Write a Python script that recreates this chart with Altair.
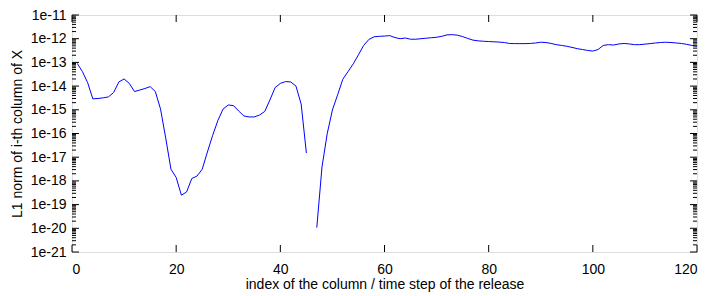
import altair as alt
import pandas as pd

# column index (1..120)
index = list(range(1, 121))
# L1 norm values (None = gap at 46)
values = [
    9.1e-14, 4.1e-14, 1.4e-14, 2.9e-15, 3.0e-15, 3.2e-15, 3.5e-15, 5.4e-15, 1.5e-14, 2.0e-14,
    1.3e-14, 5.9e-15, 6.8e-15, 7.9e-15, 9.5e-15, 5.9e-15, 1.07e-15, 6.3e-17, 3.1e-18, 1.4e-18,
    2.5e-19, 3.4e-19, 1.26e-18, 1.6e-18, 3.1e-18, 1.66e-17, 8.3e-17, 3.5e-16, 1.07e-15, 1.6e-15,
    1.5e-15, 8.9e-16, 5.5e-16, 5.0e-16, 5.0e-16, 6.0e-16, 8.5e-16, 2.6e-15, 8.7e-15, 1.3e-14,
    1.55e-14, 1.5e-14, 1.0e-14, 1.74e-15, 1.5e-17, None, 1.07e-20, 3.9e-18, 9.8e-17, 9.8e-16,
    4.3e-15, 1.95e-14, 4.1e-14, 8.7e-14, 2.1e-13, 5.2e-13, 9.3e-13, 1.2e-12, 1.26e-12, 1.29e-12,
    1.35e-12, 1.12e-12, 1.0e-12, 1.07e-12, 9.5e-13, 9.5e-13, 1.0e-12, 1.05e-12, 1.1e-12, 1.15e-12,
    1.26e-12, 1.45e-12, 1.48e-12, 1.41e-12, 1.23e-12, 1.02e-12, 8.7e-13, 8.1e-13, 7.8e-13, 7.6e-13,
    7.4e-13, 7.2e-13, 6.9e-13, 6.3e-13, 6.2e-13, 6.2e-13, 6.2e-13, 6.3e-13, 6.6e-13, 7.1e-13,
    6.9e-13, 6.3e-13, 5.6e-13, 5.2e-13, 4.8e-13, 4.3e-13, 3.8e-13, 3.5e-13, 3.2e-13, 3.0e-13,
    3.5e-13, 5.2e-13, 5.6e-13, 5.4e-13, 6.0e-13, 6.3e-13, 6.0e-13, 5.6e-13, 5.6e-13, 5.9e-13,
    6.2e-13, 6.6e-13, 6.9e-13, 7.1e-13, 6.9e-13, 6.6e-13, 6.3e-13, 5.8e-13, 5.2e-13, 4.8e-13,
]
x_ticks = [0, 20, 40, 60, 80, 100, 120]
y_decades = [1e-21, 1e-20, 1e-19, 1e-18, 1e-17, 1e-16, 1e-15, 1e-14, 1e-13, 1e-12, 1e-11]

rows = []
for i, v in zip(index, values):
    if v is None:
        continue
    rows.append({"i": i, "v": v, "seg": 0 if i < 46 else 1})
df = pd.DataFrame(rows)

minor = [d * k for d in y_decades[:-1] for k in range(2, 10)]
major_df = pd.DataFrame({"v": y_decades})
minor_df = pd.DataFrame({"v": minor})
xt_df = pd.DataFrame({"i": x_ticks})

W, H = 625, 237
FONT = "Liberation Sans"

xscale = alt.Scale(domain=[0, 120], nice=False, zero=False)
yscale = alt.Scale(type="log", domain=[1e-21, 1e-11], nice=False)

line = alt.Chart(df).mark_line(color="#0000ff", strokeWidth=1).encode(
    x=alt.X("i:Q", scale=xscale,
            axis=alt.Axis(values=x_ticks, title="index of the column / time step of the release",
                          ticks=False, domain=False, grid=False, labelPadding=10,
                          labelFontSize=14, titleFontSize=14, titleFontWeight="normal",
                          labelFont=FONT, titleFont=FONT, titlePadding=1,
                          labelColor="#000", titleColor="#000")),
    y=alt.Y("v:Q", scale=yscale,
            axis=alt.Axis(values=y_decades, title="L1 norm of i-th column of X",
                          labelExpr="'1e' + round(log(datum.value)/LN10)",
                          ticks=False, domain=False, grid=False, labelPadding=6,
                          labelFontSize=14, titleFontSize=14, titleFontWeight="normal",
                          labelFont=FONT, titleFont=FONT, titlePadding=6,
                          labelColor="#000", titleColor="#000")),
    detail="seg:N",
)

def yticks(data, length):
    left = alt.Chart(data).mark_rule(color="#000", strokeWidth=1).encode(
        y=alt.Y("v:Q", scale=yscale), x=alt.value(0), x2=alt.value(length))
    right = alt.Chart(data).mark_rule(color="#000", strokeWidth=1).encode(
        y=alt.Y("v:Q", scale=yscale), x=alt.value(W), x2=alt.value(W - length))
    return left + right

xb = alt.Chart(xt_df).mark_rule(color="#000", strokeWidth=1).encode(
    x=alt.X("i:Q", scale=xscale), y=alt.value(H), y2=alt.value(H - 7))
xtop = alt.Chart(xt_df).mark_rule(color="#000", strokeWidth=1).encode(
    x=alt.X("i:Q", scale=xscale), y=alt.value(0), y2=alt.value(7))

chart = alt.layer(
    line, yticks(major_df, 7), yticks(minor_df, 4), xb, xtop
).properties(
    width=W, height=H,
    autosize=alt.AutoSizeParams(type="none"),
    padding={"left": 64, "top": 7, "right": 5, "bottom": 43},
).configure_view(stroke="#000", strokeWidth=1).configure(background="white")

chart.save("out.html", embed_options={"renderer": "svg", "actions": False})
